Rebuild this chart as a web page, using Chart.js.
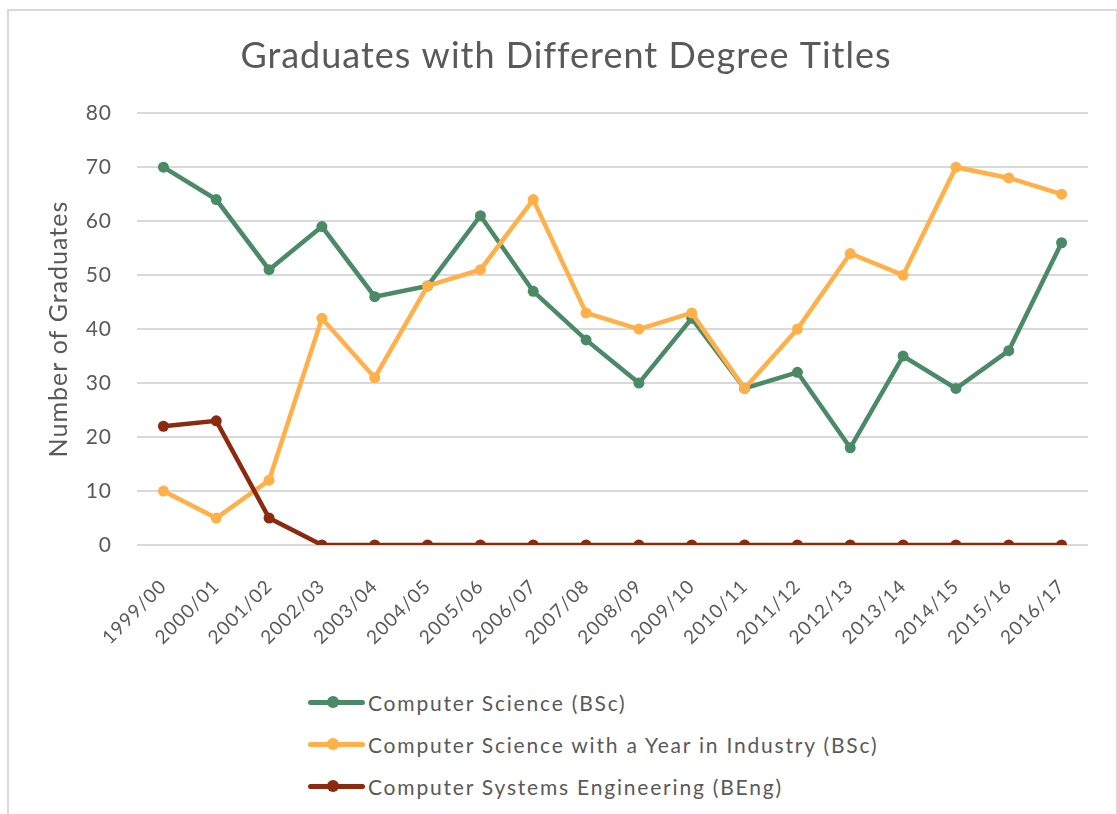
<!DOCTYPE html>
<html>
<head>
<meta charset="utf-8">
<script src="https://cdn.jsdelivr.net/npm/chart.js@4"></script>
<style>
  html, body { margin: 0; padding: 0; background: #fff; }
  body { width: 1117px; height: 814px; position: relative; overflow: hidden; font-family: Lato, "Open Sans", sans-serif; }
  #frame { position: absolute; left: 7px; top: 9px; width: 1107px; height: 820px; border: 2px solid #d9d9d9; border-right-width: 1px; pointer-events: none; }
  #wrap { position: absolute; left: 0; top: 0; width: 1117px; height: 660px; }
  #legend { position: absolute; left: 308px; top: 681px; list-style: none; margin: 0; padding: 0; }
  #legend li { height: 42px; display: flex; align-items: center; font-size: 21px; color: #595959; letter-spacing: 1.8px; }
  #legend .swatch { position: relative; width: 57px; height: 5px; border-radius: 3px; margin-right: 3px; }
  #legend .swatch::after { content: ""; position: absolute; left: 19px; top: -3.5px; width: 12px; height: 12px; border-radius: 50%; background: inherit; }
</style>
</head>
<body>
<div id="wrap"><canvas id="chart"></canvas></div>
<ul id="legend"></ul>
<div id="frame"></div>
<script>
const years = ["1999/00", "2000/01", "2001/02", "2002/03", "2003/04", "2004/05", "2005/06", "2006/07", "2007/08",
  "2008/09", "2009/10", "2010/11", "2011/12", "2012/13", "2013/14", "2014/15", "2015/16", "2016/17"];

const csBsc = [70, 64, 51, 59, 46, 48, 61, 47, 38, 30, 42, 29, 32, 18, 35, 29, 36, 56];
const csYearInIndustry = [10, 5, 12, 42, 31, 48, 51, 64, 43, 40, 43, 29, 40, 54, 50, 70, 68, 65];
const cseBeng = [22, 23, 5, 0, 0, 0, 0, 0, 0, 0, 0, 0, 0, 0, 0, 0, 0, 0];

const GREEN = "#4a8a67";
const ORANGE = "#ffb049";
const BROWN = "#8b2a0d";
const TEXT = "#595959";

function series(label, data, color, order) {
  return {
    label,
    data,
    order,
    borderColor: color,
    backgroundColor: color,
    borderWidth: 4.5,
    pointRadius: 5.5,
    pointHoverRadius: 5.5,
    pointBorderWidth: 0,
    pointBackgroundColor: color,
    tension: 0
  };
}

const datasets = [
  series("Computer Science (BSc)", csBsc, GREEN, 3),
  series("Computer Science with a Year in Industry (BSc)", csYearInIndustry, ORANGE, 2),
  series("Computer Systems Engineering (BEng)", cseBeng, BROWN, 1)
];

const legendEl = document.getElementById("legend");
datasets.forEach(ds => {
  const li = document.createElement("li");
  const sw = document.createElement("span");
  sw.className = "swatch";
  sw.style.background = ds.borderColor;
  li.appendChild(sw);
  li.appendChild(document.createTextNode(ds.label));
  legendEl.appendChild(li);
});

// the original font is wider than Lato, so space the canvas letters a bit
const spacing = {
  id: "spacing",
  beforeLayout(chart) { chart.ctx.letterSpacing = "1px"; },
  beforeDraw(chart) { chart.ctx.letterSpacing = "1px"; }
};

Chart.defaults.font.family = "Lato, 'Open Sans', sans-serif";
Chart.defaults.color = TEXT;

new Chart(document.getElementById("chart"), {
  type: "line",
  data: { labels: years, datasets },
  plugins: [spacing],
  options: {
    responsive: true,
    maintainAspectRatio: false,
    animation: false,
    layout: { padding: { left: 44, right: 29, top: 0, bottom: 0 } },
    plugins: {
      legend: { display: false },
      tooltip: { enabled: false },
      title: {
        display: true,
        text: "Graduates with Different Degree Titles",
        color: TEXT,
        font: { size: 36, weight: "normal" },
        padding: { top: 35, bottom: 35 }
      }
    },
    scales: {
      x: {
        offset: true,
        grid: { display: false },
        border: { display: false },
        ticks: { minRotation: 45, maxRotation: 45, autoSkip: false, color: TEXT, font: { size: 19 }, padding: 22 },
        afterFit: scale => { scale.height = 115; }
      },
      y: {
        min: 0,
        max: 80,
        grid: { color: "#d9d9d9", lineWidth: 2, drawTicks: false },
        border: { display: false },
        ticks: { stepSize: 10, color: TEXT, font: { size: 21 }, padding: 25 },
        title: { display: true, text: "Number of Graduates", color: TEXT, font: { size: 25 }, padding: 0 },
        afterFit: scale => { scale.width = 93; }
      }
    }
  }
});
</script>
</body>
</html>
